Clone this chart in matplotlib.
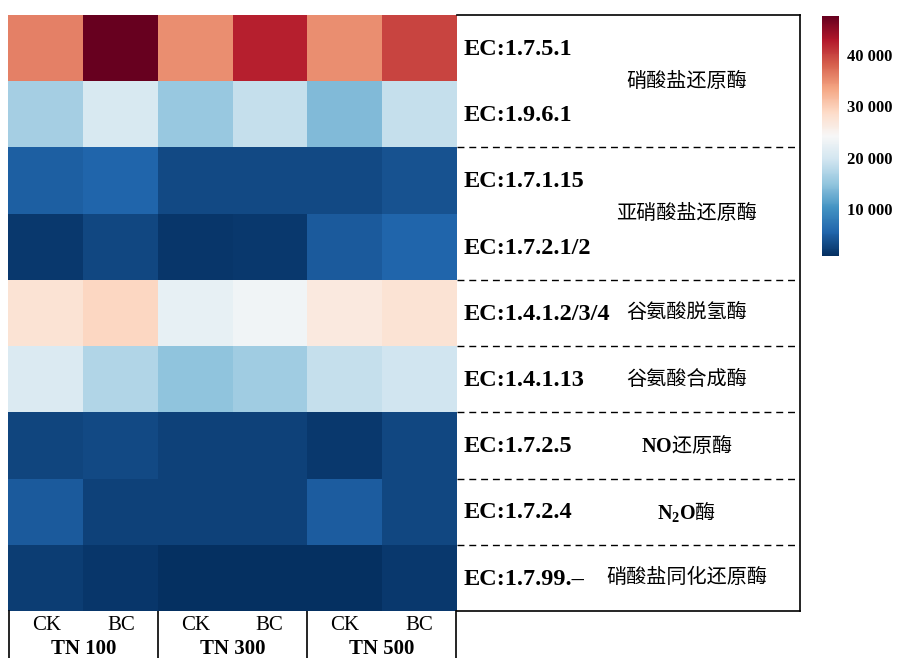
import numpy as np
import matplotlib.pyplot as plt
from matplotlib.ticker import FuncFormatter

plt.rcParams['font.family'] = ['Liberation Serif', 'Noto Sans CJK SC', 'DejaVu Sans']
plt.rcParams['mathtext.fontset'] = 'custom'
plt.rcParams['mathtext.rm'] = 'Liberation Serif'
plt.rcParams['mathtext.bf'] = 'Liberation Serif:bold'

# enzyme rows (top to bottom)
ec_labels = ['EC:1.7.5.1', 'EC:1.9.6.1', 'EC:1.7.1.15', 'EC:1.7.2.1/2',
             'EC:1.4.1.2/3/4', 'EC:1.4.1.13', 'EC:1.7.2.5', 'EC:1.7.2.4',
             'EC:1.7.99.–']
group_names = ['硝酸盐还原酶', '亚硝酸盐还原酶', '谷氨酸脱氢酶', '谷氨酸合成酶',
               r'$\mathbf{NO}$还原酶', r'$\mathbf{N_2O}$酶', '硝酸盐同化还原酶']
group_sizes = [2, 2, 1, 1, 1, 1, 1]

treatments = ['CK', 'BC', 'CK', 'BC', 'CK', 'BC']
tn_levels = ['TN 100', 'TN 300', 'TN 500']

# gene abundance per sample, one value per enzyme row
ck_100 = [35900, 16200, 5000, 1700, 27500, 20900, 2700, 4500, 2000]
bc_100 = [47600, 20400, 5500, 2900, 29300, 17200, 3100, 2400, 1500]
ck_300 = [35000, 15300, 3100, 1500, 22300, 14800, 2400, 2400, 800]
bc_300 = [42400, 18600, 3100, 1700, 23300, 15800, 2400, 2400, 800]
ck_500 = [35000, 13900, 3100, 4500, 26500, 18600, 1700, 4800, 900]
bc_500 = [40100, 18600, 3800, 5500, 27500, 19500, 2900, 2900, 1700]

data = np.column_stack([ck_100, bc_100, ck_300, bc_300, ck_500, bc_500])
n_rows, n_cols = data.shape

W, H = 899, 658


def px_box(x0, y0, x1, y1):
    return [x0 / W, 1 - y1 / H, (x1 - x0) / W, (y1 - y0) / H]


fig = plt.figure(figsize=(W / 100, H / 100), dpi=100)

# heatmap
ax = fig.add_axes(px_box(8, 15, 457, 611))
mesh = ax.pcolormesh(data, cmap='RdBu_r', vmin=data.min(), vmax=data.max())
ax.set_xlim(0, n_cols)
ax.set_ylim(n_rows, 0)
ax.axis('off')

# label box on the right
lab = fig.add_axes(px_box(457, 15, 800, 611))
lab.set_xlim(0, 1)
lab.set_ylim(n_rows, 0)
lab.set_xticks([])
lab.set_yticks([])
lab.spines['left'].set_visible(False)
for s in ['top', 'right', 'bottom']:
    lab.spines[s].set_linewidth(1.2)

bounds = np.cumsum(group_sizes)
for b in bounds[:-1]:
    lab.axhline(b, color='black', lw=1.0, ls=(0, (5, 3.5)))

for i, name in enumerate(ec_labels):
    lab.text(0.02, i + 0.52, name, fontsize=17.5, fontweight='bold', va='center')

starts = np.concatenate([[0], bounds[:-1]])
for name, start, size in zip(group_names, starts, group_sizes):
    lab.text(0.67, start + size / 2, name, ha='center', va='center',
             fontsize=14.5, family='Noto Sans CJK SC')

# treatment box below the heatmap
bot = fig.add_axes(px_box(9, 611, 456, 700))
bot.set_xlim(0, n_cols)
bot.set_ylim(89, 0)
bot.set_xticks([])
bot.set_yticks([])
bot.spines['top'].set_visible(False)
bot.spines['bottom'].set_visible(False)
bot.spines['left'].set_linewidth(1.2)
bot.spines['right'].set_linewidth(1.2)
for x in range(2, n_cols, 2):
    bot.axvline(x, color='black', lw=1.2)

for j, t in enumerate(treatments):
    bot.text(j + 0.5, 15, t, ha='center', va='center', fontsize=15)
for k, tn in enumerate(tn_levels):
    bot.text(2 * k + 1, 37.5, tn, ha='center', va='center', fontsize=15,
             fontweight='bold')

# colorbar
cax = fig.add_axes(px_box(822, 16, 839, 256))
cb = fig.colorbar(mesh, cax=cax)
cb.outline.set_visible(False)
cb.set_ticks([10000, 20000, 30000, 40000])
cb.ax.yaxis.set_major_formatter(FuncFormatter(lambda v, p: f'{int(v):,}'.replace(',', ' ')))
cb.ax.tick_params(length=0, pad=6)
for t in cb.ax.get_yticklabels():
    t.set_fontsize(12)
    t.set_fontweight('bold')

fig.savefig('out.png', dpi=100)
